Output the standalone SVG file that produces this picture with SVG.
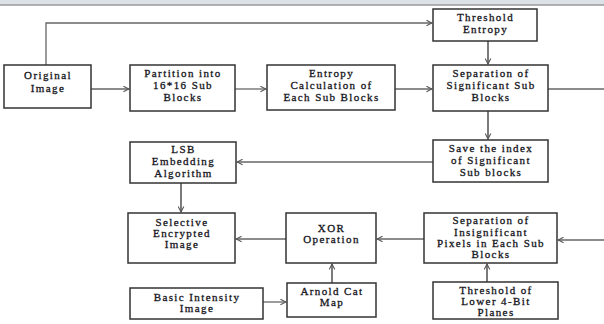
<svg xmlns="http://www.w3.org/2000/svg" width="604" height="324" viewBox="0 0 604 324">
<style>
.box{fill:#fff;stroke:#333;stroke-width:1.5}
.t{font-family:"Liberation Serif","Times New Roman",serif;font-size:11px;fill:#151520;stroke:#151520;stroke-width:0.3;text-anchor:middle;letter-spacing:1.4px}
.c{fill:none;stroke:#666;stroke-width:1.3}
.v{fill:none;stroke:#333;stroke-width:1.3}
</style>
<defs>
<marker id="ah" viewBox="0 0 10 10" refX="9" refY="5" markerWidth="7" markerHeight="7" orient="auto" markerUnits="userSpaceOnUse">
<path d="M1,1 L9,5 L1,9" fill="none" stroke="#555" stroke-width="1.5"/>
</marker>
</defs>
<rect x="0" y="0" width="604" height="5" fill="#dde2e8"/>
<line x1="0" y1="5" x2="604" y2="5" stroke="#9a9a9a" stroke-width="1.5"/>
<g id="connectors">
<path class="c" d="M46,65 V23 H432" marker-end="url(#ah)"/>
<path class="c" d="M91,89 H129" marker-end="url(#ah)"/>
<path class="c" d="M235,89 H266" marker-end="url(#ah)"/>
<path class="c" d="M395,89 H432" marker-end="url(#ah)"/>
<path class="v" d="M488,41 V64" marker-end="url(#ah)"/>
<path class="c" d="M548,89 H604"/>
<path class="v" d="M488,111 V139" marker-end="url(#ah)"/>
<path class="c" d="M433,162 H237" marker-end="url(#ah)"/>
<path class="v" d="M181,183 V212" marker-end="url(#ah)"/>
<path class="c" d="M604,240 H558" marker-end="url(#ah)"/>
<path class="c" d="M424,239 H377" marker-end="url(#ah)"/>
<path class="c" d="M286,239 H236" marker-end="url(#ah)"/>
<path class="v" d="M332,283 V264" marker-end="url(#ah)"/>
<path class="c" d="M263,302 H286" marker-end="url(#ah)"/>
<path class="v" d="M487,282 V264" marker-end="url(#ah)"/>
</g>
<g id="original">
<rect class="box" x="4" y="65" width="87" height="43"/>
<text class="t" x="48" y="79">Original</text>
<text class="t" x="48" y="92">Image</text>
</g>
<g id="partition">
<rect class="box" x="130" y="65" width="105" height="46"/>
<text class="t" x="183" y="77">Partition into</text>
<text class="t" x="183" y="89">16*16 Sub</text>
<text class="t" x="183" y="101">Blocks</text>
</g>
<g id="entropy">
<rect class="box" x="267" y="65" width="128" height="45"/>
<text class="t" x="331.5" y="77">Entropy</text>
<text class="t" x="331.5" y="89">Calculation of</text>
<text class="t" x="331.5" y="101">Each Sub Blocks</text>
</g>
<g id="threshold-entropy">
<rect class="box" x="433" y="9" width="104" height="32"/>
<text class="t" x="485.5" y="21">Threshold</text>
<text class="t" x="485.5" y="33">Entropy</text>
</g>
<g id="sep-significant">
<rect class="box" x="433" y="65" width="115" height="46"/>
<text class="t" x="491" y="77">Separation of</text>
<text class="t" x="491" y="89">Significant Sub</text>
<text class="t" x="491" y="101">Blocks</text>
</g>
<g id="save-index">
<rect class="box" x="433" y="140" width="115" height="42"/>
<text class="t" x="491" y="152">Save the index</text>
<text class="t" x="491" y="164">of Significant</text>
<text class="t" x="491" y="176">Sub blocks</text>
</g>
<g id="lsb">
<rect class="box" x="130" y="142" width="106" height="41"/>
<text class="t" x="183.5" y="153">LSB</text>
<text class="t" x="183.5" y="165">Embedding</text>
<text class="t" x="183.5" y="177">Algorithm</text>
</g>
<g id="selective">
<rect class="box" x="128" y="213" width="107" height="50"/>
<text class="t" x="182" y="226">Selective</text>
<text class="t" x="182" y="237">Encrypted</text>
<text class="t" x="182" y="248">Image</text>
</g>
<g id="xor">
<rect class="box" x="286" y="213" width="90" height="50"/>
<text class="t" x="331.5" y="232">XOR</text>
<text class="t" x="331.5" y="243">Operation</text>
</g>
<g id="sep-insignificant">
<rect class="box" x="424" y="213" width="133" height="50"/>
<text class="t" x="491" y="224">Separation of</text>
<text class="t" x="491" y="236">Insignificant</text>
<text class="t" x="491" y="247">Pixels in Each Sub</text>
<text class="t" x="491" y="258">Blocks</text>
</g>
<g id="basic">
<rect class="box" x="130" y="288" width="133" height="31"/>
<text class="t" x="197" y="301">Basic Intensity</text>
<text class="t" x="197" y="312">Image</text>
</g>
<g id="arnold">
<rect class="box" x="287" y="283" width="89" height="34"/>
<text class="t" x="332" y="295">Arnold Cat</text>
<text class="t" x="332" y="306">Map</text>
</g>
<g id="threshold-lower">
<rect class="box" x="433" y="282" width="125" height="37"/>
<text class="t" x="496" y="294">Threshold of</text>
<text class="t" x="496" y="305">Lower 4-Bit</text>
<text class="t" x="496" y="316">Planes</text>
</g>
</svg>
